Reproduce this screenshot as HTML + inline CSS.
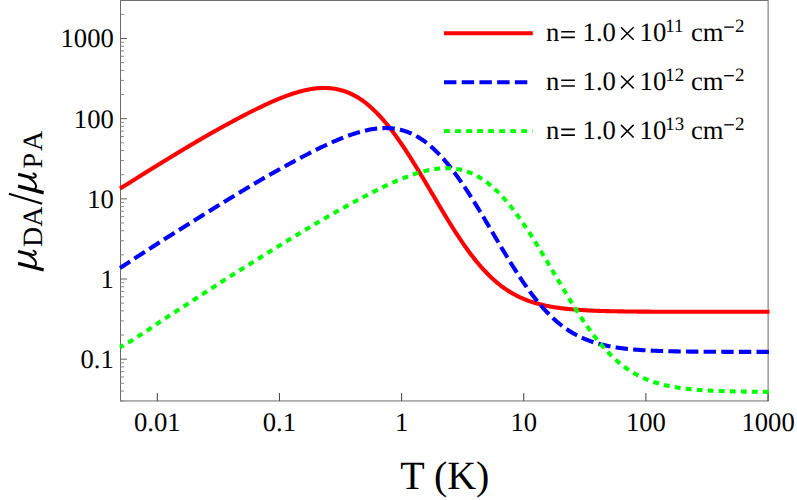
<!DOCTYPE html>
<html><head><meta charset="utf-8"><title>plot</title>
<style>html,body{margin:0;padding:0;background:#fff;}svg{display:block}text{font-family:"Liberation Serif",serif;fill:#000;text-rendering:geometricPrecision}</style></head><body>
<svg width="797" height="500" viewBox="0 0 797 500">
<rect x="0" y="0" width="797" height="500" fill="#fff"/>
<defs><clipPath id="c"><rect x="117.5" y="0.45" width="653.6" height="400.5"/></clipPath></defs>
<rect x="120.5" y="0.45" width="647.6" height="400.5" fill="none" stroke="#6b6b6b" stroke-width="1"/>
<g stroke-width="1">
<line x1="157.30" y1="400.95" x2="157.30" y2="393.05" stroke="#3c3c3c"/>
<line x1="279.45" y1="400.95" x2="279.45" y2="393.05" stroke="#3c3c3c"/>
<line x1="401.60" y1="400.95" x2="401.60" y2="393.05" stroke="#3c3c3c"/>
<line x1="523.75" y1="400.95" x2="523.75" y2="393.05" stroke="#3c3c3c"/>
<line x1="645.90" y1="400.95" x2="645.90" y2="393.05" stroke="#3c3c3c"/>
<line x1="768.05" y1="400.95" x2="768.05" y2="393.05" stroke="#3c3c3c"/>
<line x1="120.5" y1="359.17" x2="127.0" y2="359.17" stroke="#5e5e5e"/>
<line x1="120.5" y1="279.00" x2="127.0" y2="279.00" stroke="#5e5e5e"/>
<line x1="120.5" y1="198.83" x2="127.0" y2="198.83" stroke="#5e5e5e"/>
<line x1="120.5" y1="118.66" x2="127.0" y2="118.66" stroke="#5e5e5e"/>
<line x1="120.5" y1="38.49" x2="127.0" y2="38.49" stroke="#5e5e5e"/>
<line x1="120.5" y1="401.09" x2="124.0" y2="401.09" stroke="#8a8a8a"/>
<line x1="120.5" y1="391.07" x2="124.0" y2="391.07" stroke="#8a8a8a"/>
<line x1="120.5" y1="383.30" x2="124.0" y2="383.30" stroke="#8a8a8a"/>
<line x1="120.5" y1="376.96" x2="124.0" y2="376.96" stroke="#8a8a8a"/>
<line x1="120.5" y1="371.59" x2="124.0" y2="371.59" stroke="#8a8a8a"/>
<line x1="120.5" y1="366.94" x2="124.0" y2="366.94" stroke="#8a8a8a"/>
<line x1="120.5" y1="362.84" x2="124.0" y2="362.84" stroke="#8a8a8a"/>
<line x1="120.5" y1="335.04" x2="124.0" y2="335.04" stroke="#8a8a8a"/>
<line x1="120.5" y1="320.92" x2="124.0" y2="320.92" stroke="#8a8a8a"/>
<line x1="120.5" y1="310.90" x2="124.0" y2="310.90" stroke="#8a8a8a"/>
<line x1="120.5" y1="303.13" x2="124.0" y2="303.13" stroke="#8a8a8a"/>
<line x1="120.5" y1="296.79" x2="124.0" y2="296.79" stroke="#8a8a8a"/>
<line x1="120.5" y1="291.42" x2="124.0" y2="291.42" stroke="#8a8a8a"/>
<line x1="120.5" y1="286.77" x2="124.0" y2="286.77" stroke="#8a8a8a"/>
<line x1="120.5" y1="282.67" x2="124.0" y2="282.67" stroke="#8a8a8a"/>
<line x1="120.5" y1="254.87" x2="124.0" y2="254.87" stroke="#8a8a8a"/>
<line x1="120.5" y1="240.75" x2="124.0" y2="240.75" stroke="#8a8a8a"/>
<line x1="120.5" y1="230.73" x2="124.0" y2="230.73" stroke="#8a8a8a"/>
<line x1="120.5" y1="222.96" x2="124.0" y2="222.96" stroke="#8a8a8a"/>
<line x1="120.5" y1="216.62" x2="124.0" y2="216.62" stroke="#8a8a8a"/>
<line x1="120.5" y1="211.25" x2="124.0" y2="211.25" stroke="#8a8a8a"/>
<line x1="120.5" y1="206.60" x2="124.0" y2="206.60" stroke="#8a8a8a"/>
<line x1="120.5" y1="202.50" x2="124.0" y2="202.50" stroke="#8a8a8a"/>
<line x1="120.5" y1="174.70" x2="124.0" y2="174.70" stroke="#8a8a8a"/>
<line x1="120.5" y1="160.58" x2="124.0" y2="160.58" stroke="#8a8a8a"/>
<line x1="120.5" y1="150.56" x2="124.0" y2="150.56" stroke="#8a8a8a"/>
<line x1="120.5" y1="142.79" x2="124.0" y2="142.79" stroke="#8a8a8a"/>
<line x1="120.5" y1="136.45" x2="124.0" y2="136.45" stroke="#8a8a8a"/>
<line x1="120.5" y1="131.08" x2="124.0" y2="131.08" stroke="#8a8a8a"/>
<line x1="120.5" y1="126.43" x2="124.0" y2="126.43" stroke="#8a8a8a"/>
<line x1="120.5" y1="122.33" x2="124.0" y2="122.33" stroke="#8a8a8a"/>
<line x1="120.5" y1="94.53" x2="124.0" y2="94.53" stroke="#8a8a8a"/>
<line x1="120.5" y1="80.41" x2="124.0" y2="80.41" stroke="#8a8a8a"/>
<line x1="120.5" y1="70.39" x2="124.0" y2="70.39" stroke="#8a8a8a"/>
<line x1="120.5" y1="62.62" x2="124.0" y2="62.62" stroke="#8a8a8a"/>
<line x1="120.5" y1="56.28" x2="124.0" y2="56.28" stroke="#8a8a8a"/>
<line x1="120.5" y1="50.91" x2="124.0" y2="50.91" stroke="#8a8a8a"/>
<line x1="120.5" y1="46.26" x2="124.0" y2="46.26" stroke="#8a8a8a"/>
<line x1="120.5" y1="42.16" x2="124.0" y2="42.16" stroke="#8a8a8a"/>
<line x1="120.5" y1="14.36" x2="124.0" y2="14.36" stroke="#8a8a8a"/>
</g>
<g clip-path="url(#c)" fill="none" stroke-linejoin="round">
<path d="M120.0,188.60 L121.0,187.97 L122.0,187.35 L123.0,186.73 L124.0,186.11 L125.0,185.49 L126.0,184.87 L127.0,184.26 L128.0,183.64 L129.0,183.01 L130.0,182.39 L131.0,181.77 L132.0,181.14 L133.0,180.52 L134.0,179.89 L135.0,179.26 L136.0,178.62 L137.0,177.99 L138.0,177.36 L139.0,176.73 L140.0,176.10 L141.0,175.47 L142.0,174.84 L143.0,174.22 L144.0,173.59 L145.0,172.97 L146.0,172.34 L147.0,171.72 L148.0,171.10 L149.0,170.47 L150.0,169.85 L151.0,169.23 L152.0,168.61 L153.0,167.99 L154.0,167.38 L155.0,166.76 L156.0,166.14 L157.0,165.53 L158.0,164.91 L159.0,164.30 L160.0,163.69 L161.0,163.07 L162.0,162.46 L163.0,161.85 L164.0,161.24 L165.0,160.63 L166.0,160.02 L167.0,159.41 L168.0,158.80 L169.0,158.20 L170.0,157.59 L171.0,156.98 L172.0,156.37 L173.0,155.76 L174.0,155.16 L175.0,154.55 L176.0,153.94 L177.0,153.34 L178.0,152.73 L179.0,152.13 L180.0,151.52 L181.0,150.92 L182.0,150.32 L183.0,149.71 L184.0,149.11 L185.0,148.51 L186.0,147.91 L187.0,147.31 L188.0,146.72 L189.0,146.12 L190.0,145.52 L191.0,144.93 L192.0,144.33 L193.0,143.74 L194.0,143.15 L195.0,142.56 L196.0,141.97 L197.0,141.38 L198.0,140.80 L199.0,140.21 L200.0,139.63 L201.0,139.05 L202.0,138.47 L203.0,137.89 L204.0,137.32 L205.0,136.74 L206.0,136.17 L207.0,135.59 L208.0,135.02 L209.0,134.45 L210.0,133.88 L211.0,133.32 L212.0,132.75 L213.0,132.19 L214.0,131.62 L215.0,131.06 L216.0,130.50 L217.0,129.94 L218.0,129.38 L219.0,128.83 L220.0,128.27 L221.0,127.72 L222.0,127.16 L223.0,126.61 L224.0,126.06 L225.0,125.51 L226.0,124.97 L227.0,124.42 L228.0,123.88 L229.0,123.33 L230.0,122.79 L231.0,122.25 L232.0,121.71 L233.0,121.17 L234.0,120.64 L235.0,120.10 L236.0,119.57 L237.0,119.04 L238.0,118.51 L239.0,117.98 L240.0,117.45 L241.0,116.92 L242.0,116.40 L243.0,115.88 L244.0,115.36 L245.0,114.84 L246.0,114.32 L247.0,113.80 L248.0,113.29 L249.0,112.77 L250.0,112.26 L251.0,111.75 L252.0,111.25 L253.0,110.74 L254.0,110.24 L255.0,109.74 L256.0,109.25 L257.0,108.75 L258.0,108.26 L259.0,107.78 L260.0,107.29 L261.0,106.81 L262.0,106.33 L263.0,105.86 L264.0,105.38 L265.0,104.92 L266.0,104.45 L267.0,103.99 L268.0,103.53 L269.0,103.08 L270.0,102.63 L271.0,102.18 L272.0,101.74 L273.0,101.30 L274.0,100.87 L275.0,100.44 L276.0,100.02 L277.0,99.60 L278.0,99.18 L279.0,98.77 L280.0,98.37 L281.0,97.97 L282.0,97.57 L283.0,97.18 L284.0,96.80 L285.0,96.42 L286.0,96.05 L287.0,95.68 L288.0,95.32 L289.0,94.97 L290.0,94.62 L291.0,94.28 L292.0,93.94 L293.0,93.62 L294.0,93.29 L295.0,92.98 L296.0,92.67 L297.0,92.37 L298.0,92.08 L299.0,91.80 L300.0,91.52 L301.0,91.26 L302.0,91.00 L303.0,90.75 L304.0,90.51 L305.0,90.28 L306.0,90.05 L307.0,89.84 L308.0,89.64 L309.0,89.45 L310.0,89.27 L311.0,89.10 L312.0,88.94 L313.0,88.79 L314.0,88.65 L315.0,88.53 L316.0,88.41 L317.0,88.31 L318.0,88.22 L319.0,88.15 L320.0,88.08 L321.0,88.03 L322.0,88.00 L323.0,87.98 L324.0,87.97 L325.0,87.97 L326.0,87.99 L327.0,88.03 L328.0,88.08 L329.0,88.14 L330.0,88.22 L331.0,88.31 L332.0,88.42 L333.0,88.55 L334.0,88.69 L335.0,88.85 L336.0,89.02 L337.0,89.21 L338.0,89.42 L339.0,89.65 L340.0,89.89 L341.0,90.15 L342.0,90.43 L343.0,90.73 L344.0,91.05 L345.0,91.39 L346.0,91.74 L347.0,92.12 L348.0,92.52 L349.0,92.93 L350.0,93.37 L351.0,93.82 L352.0,94.30 L353.0,94.79 L354.0,95.31 L355.0,95.85 L356.0,96.41 L357.0,96.99 L358.0,97.59 L359.0,98.22 L360.0,98.87 L361.0,99.53 L362.0,100.22 L363.0,100.94 L364.0,101.67 L365.0,102.43 L366.0,103.20 L367.0,104.00 L368.0,104.83 L369.0,105.67 L370.0,106.53 L371.0,107.42 L372.0,108.33 L373.0,109.25 L374.0,110.20 L375.0,111.17 L376.0,112.16 L377.0,113.18 L378.0,114.21 L379.0,115.26 L380.0,116.34 L381.0,117.43 L382.0,118.55 L383.0,119.68 L384.0,120.84 L385.0,122.01 L386.0,123.21 L387.0,124.42 L388.0,125.65 L389.0,126.91 L390.0,128.18 L391.0,129.46 L392.0,130.77 L393.0,132.09 L394.0,133.43 L395.0,134.79 L396.0,136.17 L397.0,137.56 L398.0,138.96 L399.0,140.39 L400.0,141.82 L401.0,143.28 L402.0,144.74 L403.0,146.22 L404.0,147.72 L405.0,149.23 L406.0,150.75 L407.0,152.28 L408.0,153.83 L409.0,155.39 L410.0,156.96 L411.0,158.54 L412.0,160.13 L413.0,161.73 L414.0,163.34 L415.0,164.96 L416.0,166.58 L417.0,168.22 L418.0,169.86 L419.0,171.51 L420.0,173.17 L421.0,174.83 L422.0,176.50 L423.0,178.17 L424.0,179.85 L425.0,181.53 L426.0,183.22 L427.0,184.91 L428.0,186.60 L429.0,188.29 L430.0,189.99 L431.0,191.68 L432.0,193.38 L433.0,195.07 L434.0,196.77 L435.0,198.46 L436.0,200.16 L437.0,201.85 L438.0,203.54 L439.0,205.22 L440.0,206.90 L441.0,208.58 L442.0,210.25 L443.0,211.92 L444.0,213.58 L445.0,215.23 L446.0,216.88 L447.0,218.52 L448.0,220.15 L449.0,221.78 L450.0,223.39 L451.0,225.00 L452.0,226.59 L453.0,228.18 L454.0,229.76 L455.0,231.32 L456.0,232.87 L457.0,234.41 L458.0,235.94 L459.0,237.45 L460.0,238.96 L461.0,240.44 L462.0,241.92 L463.0,243.38 L464.0,244.82 L465.0,246.25 L466.0,247.66 L467.0,249.06 L468.0,250.44 L469.0,251.81 L470.0,253.16 L471.0,254.49 L472.0,255.80 L473.0,257.10 L474.0,258.38 L475.0,259.64 L476.0,260.88 L477.0,262.10 L478.0,263.31 L479.0,264.49 L480.0,265.66 L481.0,266.81 L482.0,267.94 L483.0,269.05 L484.0,270.14 L485.0,271.21 L486.0,272.27 L487.0,273.30 L488.0,274.31 L489.0,275.31 L490.0,276.29 L491.0,277.24 L492.0,278.18 L493.0,279.10 L494.0,280.00 L495.0,280.88 L496.0,281.74 L497.0,282.58 L498.0,283.41 L499.0,284.22 L500.0,285.00 L501.0,285.77 L502.0,286.53 L503.0,287.26 L504.0,287.98 L505.0,288.68 L506.0,289.36 L507.0,290.03 L508.0,290.68 L509.0,291.31 L510.0,291.93 L511.0,292.53 L512.0,293.12 L513.0,293.69 L514.0,294.25 L515.0,294.79 L516.0,295.31 L517.0,295.83 L518.0,296.32 L519.0,296.81 L520.0,297.28 L521.0,297.74 L522.0,298.18 L523.0,298.62 L524.0,299.04 L525.0,299.44 L526.0,299.84 L527.0,300.23 L528.0,300.60 L529.0,300.96 L530.0,301.31 L531.0,301.65 L532.0,301.99 L533.0,302.31 L534.0,302.62 L535.0,302.92 L536.0,303.21 L537.0,303.50 L538.0,303.77 L539.0,304.04 L540.0,304.30 L541.0,304.55 L542.0,304.79 L543.0,305.02 L544.0,305.25 L545.0,305.47 L546.0,305.68 L547.0,305.89 L548.0,306.09 L549.0,306.28 L550.0,306.47 L551.0,306.65 L552.0,306.83 L553.0,306.99 L554.0,307.16 L555.0,307.32 L556.0,307.47 L557.0,307.62 L558.0,307.76 L559.0,307.90 L560.0,308.03 L561.0,308.16 L562.0,308.29 L563.0,308.41 L564.0,308.53 L565.0,308.64 L566.0,308.75 L567.0,308.86 L568.0,308.96 L569.0,309.06 L570.0,309.15 L571.0,309.24 L572.0,309.33 L573.0,309.42 L574.0,309.50 L575.0,309.58 L576.0,309.66 L577.0,309.74 L578.0,309.81 L579.0,309.88 L580.0,309.95 L581.0,310.01 L582.0,310.07 L583.0,310.13 L584.0,310.19 L585.0,310.25 L586.0,310.31 L587.0,310.36 L588.0,310.41 L589.0,310.46 L590.0,310.51 L591.0,310.55 L592.0,310.60 L593.0,310.64 L594.0,310.68 L595.0,310.72 L596.0,310.76 L597.0,310.80 L598.0,310.83 L599.0,310.87 L600.0,310.90 L601.0,310.93 L602.0,310.96 L603.0,310.99 L604.0,311.02 L605.0,311.05 L606.0,311.08 L607.0,311.10 L608.0,311.13 L609.0,311.15 L610.0,311.18 L611.0,311.20 L612.0,311.22 L613.0,311.24 L614.0,311.26 L615.0,311.28 L616.0,311.30 L617.0,311.32 L618.0,311.34 L619.0,311.36 L620.0,311.37 L621.0,311.39 L622.0,311.40 L623.0,311.42 L624.0,311.43 L625.0,311.45 L626.0,311.46 L627.0,311.47 L628.0,311.48 L629.0,311.50 L630.0,311.51 L631.0,311.52 L632.0,311.53 L633.0,311.54 L634.0,311.55 L635.0,311.56 L636.0,311.57 L637.0,311.58 L638.0,311.59 L639.0,311.60 L640.0,311.60 L641.0,311.61 L642.0,311.62 L643.0,311.63 L644.0,311.63 L645.0,311.64 L646.0,311.65 L647.0,311.65 L648.0,311.66 L649.0,311.66 L650.0,311.67 L651.0,311.68 L652.0,311.68 L653.0,311.69 L654.0,311.69 L655.0,311.70 L656.0,311.70 L657.0,311.70 L658.0,311.71 L659.0,311.71 L660.0,311.72 L661.0,311.72 L662.0,311.72 L663.0,311.73 L664.0,311.73 L665.0,311.73 L666.0,311.74 L667.0,311.74 L668.0,311.74 L669.0,311.75 L670.0,311.75 L671.0,311.75 L672.0,311.75 L673.0,311.76 L674.0,311.76 L675.0,311.76 L676.0,311.76 L677.0,311.77 L678.0,311.77 L679.0,311.77 L680.0,311.77 L681.0,311.77 L682.0,311.78 L683.0,311.78 L684.0,311.78 L685.0,311.78 L686.0,311.78 L687.0,311.78 L688.0,311.79 L689.0,311.79 L690.0,311.79 L691.0,311.79 L692.0,311.79 L693.0,311.79 L694.0,311.79 L695.0,311.79 L696.0,311.80 L697.0,311.80 L698.0,311.80 L699.0,311.80 L700.0,311.80 L701.0,311.80 L702.0,311.80 L703.0,311.80 L704.0,311.80 L705.0,311.80 L706.0,311.80 L707.0,311.81 L708.0,311.81 L709.0,311.81 L710.0,311.81 L711.0,311.81 L712.0,311.81 L713.0,311.81 L714.0,311.81 L715.0,311.81 L716.0,311.81 L717.0,311.81 L718.0,311.81 L719.0,311.81 L720.0,311.81 L721.0,311.81 L722.0,311.81 L723.0,311.81 L724.0,311.81 L725.0,311.81 L726.0,311.82 L727.0,311.82 L728.0,311.82 L729.0,311.82 L730.0,311.82 L731.0,311.82 L732.0,311.82 L733.0,311.82 L734.0,311.82 L735.0,311.82 L736.0,311.82 L737.0,311.82 L738.0,311.82 L739.0,311.82 L740.0,311.82 L741.0,311.82 L742.0,311.82 L743.0,311.82 L744.0,311.82 L745.0,311.82 L746.0,311.82 L747.0,311.82 L748.0,311.82 L749.0,311.82 L750.0,311.82 L751.0,311.82 L752.0,311.82 L753.0,311.82 L754.0,311.82 L755.0,311.82 L756.0,311.82 L757.0,311.82 L758.0,311.82 L759.0,311.82 L760.0,311.82 L761.0,311.82 L762.0,311.82 L763.0,311.82 L764.0,311.82 L765.0,311.82 L766.0,311.82 L767.0,311.82 L768.0,311.82 L769.0,311.82 L769.5,311.82" stroke="#ff0000" stroke-width="4.1"/>
<path d="M120.0,268.02 L121.0,267.38 L122.0,266.74 L123.0,266.10 L124.0,265.46 L125.0,264.81 L126.0,264.15 L127.0,263.50 L128.0,262.84 L129.0,262.18 L130.0,261.52 L131.0,260.86 L132.0,260.20 L133.0,259.54 L134.0,258.89 L135.0,258.23 L136.0,257.57 L137.0,256.91 L138.0,256.25 L139.0,255.60 L140.0,254.95 L141.0,254.30 L142.0,253.66 L143.0,253.02 L144.0,252.38 L145.0,251.74 L146.0,251.10 L147.0,250.46 L148.0,249.82 L149.0,249.17 L150.0,248.53 L151.0,247.88 L152.0,247.23 L153.0,246.58 L154.0,245.93 L155.0,245.28 L156.0,244.63 L157.0,243.98 L158.0,243.34 L159.0,242.69 L160.0,242.04 L161.0,241.39 L162.0,240.75 L163.0,240.10 L164.0,239.46 L165.0,238.82 L166.0,238.18 L167.0,237.55 L168.0,236.91 L169.0,236.28 L170.0,235.65 L171.0,235.03 L172.0,234.40 L173.0,233.77 L174.0,233.15 L175.0,232.52 L176.0,231.90 L177.0,231.27 L178.0,230.65 L179.0,230.02 L180.0,229.40 L181.0,228.77 L182.0,228.15 L183.0,227.53 L184.0,226.91 L185.0,226.29 L186.0,225.67 L187.0,225.05 L188.0,224.43 L189.0,223.81 L190.0,223.19 L191.0,222.57 L192.0,221.94 L193.0,221.32 L194.0,220.69 L195.0,220.06 L196.0,219.43 L197.0,218.80 L198.0,218.17 L199.0,217.54 L200.0,216.91 L201.0,216.28 L202.0,215.65 L203.0,215.02 L204.0,214.39 L205.0,213.77 L206.0,213.14 L207.0,212.52 L208.0,211.89 L209.0,211.27 L210.0,210.65 L211.0,210.03 L212.0,209.41 L213.0,208.79 L214.0,208.17 L215.0,207.55 L216.0,206.93 L217.0,206.32 L218.0,205.70 L219.0,205.09 L220.0,204.47 L221.0,203.86 L222.0,203.25 L223.0,202.63 L224.0,202.02 L225.0,201.41 L226.0,200.80 L227.0,200.20 L228.0,199.59 L229.0,198.98 L230.0,198.37 L231.0,197.76 L232.0,197.15 L233.0,196.54 L234.0,195.94 L235.0,195.33 L236.0,194.72 L237.0,194.12 L238.0,193.51 L239.0,192.90 L240.0,192.30 L241.0,191.70 L242.0,191.09 L243.0,190.49 L244.0,189.89 L245.0,189.28 L246.0,188.68 L247.0,188.08 L248.0,187.49 L249.0,186.89 L250.0,186.29 L251.0,185.69 L252.0,185.10 L253.0,184.51 L254.0,183.91 L255.0,183.32 L256.0,182.73 L257.0,182.14 L258.0,181.56 L259.0,180.97 L260.0,180.38 L261.0,179.80 L262.0,179.22 L263.0,178.64 L264.0,178.06 L265.0,177.48 L266.0,176.91 L267.0,176.33 L268.0,175.76 L269.0,175.19 L270.0,174.62 L271.0,174.05 L272.0,173.48 L273.0,172.92 L274.0,172.35 L275.0,171.79 L276.0,171.23 L277.0,170.67 L278.0,170.11 L279.0,169.55 L280.0,168.99 L281.0,168.44 L282.0,167.88 L283.0,167.33 L284.0,166.78 L285.0,166.23 L286.0,165.68 L287.0,165.13 L288.0,164.59 L289.0,164.04 L290.0,163.50 L291.0,162.96 L292.0,162.42 L293.0,161.88 L294.0,161.34 L295.0,160.80 L296.0,160.27 L297.0,159.73 L298.0,159.20 L299.0,158.67 L300.0,158.14 L301.0,157.61 L302.0,157.09 L303.0,156.56 L304.0,156.04 L305.0,155.52 L306.0,155.00 L307.0,154.48 L308.0,153.96 L309.0,153.45 L310.0,152.94 L311.0,152.42 L312.0,151.92 L313.0,151.41 L314.0,150.90 L315.0,150.40 L316.0,149.90 L317.0,149.41 L318.0,148.91 L319.0,148.42 L320.0,147.93 L321.0,147.45 L322.0,146.97 L323.0,146.49 L324.0,146.01 L325.0,145.54 L326.0,145.07 L327.0,144.61 L328.0,144.15 L329.0,143.69 L330.0,143.23 L331.0,142.78 L332.0,142.34 L333.0,141.89 L334.0,141.46 L335.0,141.02 L336.0,140.59 L337.0,140.17 L338.0,139.75 L339.0,139.33 L340.0,138.92 L341.0,138.52 L342.0,138.12 L343.0,137.72 L344.0,137.33 L345.0,136.95 L346.0,136.57 L347.0,136.19 L348.0,135.83 L349.0,135.47 L350.0,135.11 L351.0,134.76 L352.0,134.42 L353.0,134.08 L354.0,133.75 L355.0,133.43 L356.0,133.12 L357.0,132.81 L358.0,132.51 L359.0,132.22 L360.0,131.93 L361.0,131.66 L362.0,131.39 L363.0,131.13 L364.0,130.88 L365.0,130.64 L366.0,130.40 L367.0,130.18 L368.0,129.97 L369.0,129.76 L370.0,129.57 L371.0,129.39 L372.0,129.22 L373.0,129.06 L374.0,128.91 L375.0,128.77 L376.0,128.64 L377.0,128.53 L378.0,128.42 L379.0,128.33 L380.0,128.26 L381.0,128.19 L382.0,128.14 L383.0,128.10 L384.0,128.08 L385.0,128.07 L386.0,128.07 L387.0,128.09 L388.0,128.12 L389.0,128.17 L390.0,128.23 L391.0,128.31 L392.0,128.40 L393.0,128.51 L394.0,128.63 L395.0,128.77 L396.0,128.93 L397.0,129.10 L398.0,129.29 L399.0,129.50 L400.0,129.72 L401.0,129.96 L402.0,130.22 L403.0,130.50 L404.0,130.80 L405.0,131.11 L406.0,131.45 L407.0,131.80 L408.0,132.17 L409.0,132.57 L410.0,132.98 L411.0,133.41 L412.0,133.87 L413.0,134.34 L414.0,134.83 L415.0,135.35 L416.0,135.88 L417.0,136.44 L418.0,137.02 L419.0,137.62 L420.0,138.24 L421.0,138.89 L422.0,139.55 L423.0,140.24 L424.0,140.95 L425.0,141.68 L426.0,142.43 L427.0,143.21 L428.0,144.01 L429.0,144.83 L430.0,145.67 L431.0,146.53 L432.0,147.41 L433.0,148.32 L434.0,149.24 L435.0,150.19 L436.0,151.16 L437.0,152.14 L438.0,153.15 L439.0,154.19 L440.0,155.24 L441.0,156.31 L442.0,157.40 L443.0,158.51 L444.0,159.65 L445.0,160.80 L446.0,161.97 L447.0,163.16 L448.0,164.38 L449.0,165.61 L450.0,166.85 L451.0,168.12 L452.0,169.41 L453.0,170.71 L454.0,172.03 L455.0,173.37 L456.0,174.73 L457.0,176.10 L458.0,177.49 L459.0,178.89 L460.0,180.31 L461.0,181.75 L462.0,183.20 L463.0,184.67 L464.0,186.15 L465.0,187.64 L466.0,189.15 L467.0,190.67 L468.0,192.20 L469.0,193.74 L470.0,195.30 L471.0,196.87 L472.0,198.45 L473.0,200.04 L474.0,201.64 L475.0,203.24 L476.0,204.86 L477.0,206.49 L478.0,208.12 L479.0,209.76 L480.0,211.41 L481.0,213.07 L482.0,214.73 L483.0,216.40 L484.0,218.07 L485.0,219.75 L486.0,221.43 L487.0,223.12 L488.0,224.80 L489.0,226.50 L490.0,228.19 L491.0,229.88 L492.0,231.58 L493.0,233.28 L494.0,234.97 L495.0,236.67 L496.0,238.36 L497.0,240.05 L498.0,241.75 L499.0,243.43 L500.0,245.12 L501.0,246.80 L502.0,248.48 L503.0,250.15 L504.0,251.82 L505.0,253.48 L506.0,255.13 L507.0,256.78 L508.0,258.42 L509.0,260.06 L510.0,261.68 L511.0,263.30 L512.0,264.91 L513.0,266.50 L514.0,268.09 L515.0,269.67 L516.0,271.23 L517.0,272.79 L518.0,274.33 L519.0,275.86 L520.0,277.37 L521.0,278.88 L522.0,280.37 L523.0,281.84 L524.0,283.30 L525.0,284.75 L526.0,286.18 L527.0,287.60 L528.0,288.99 L529.0,290.38 L530.0,291.75 L531.0,293.10 L532.0,294.43 L533.0,295.74 L534.0,297.04 L535.0,298.32 L536.0,299.59 L537.0,300.83 L538.0,302.06 L539.0,303.26 L540.0,304.45 L541.0,305.62 L542.0,306.77 L543.0,307.91 L544.0,309.02 L545.0,310.11 L546.0,311.19 L547.0,312.24 L548.0,313.28 L549.0,314.29 L550.0,315.29 L551.0,316.27 L552.0,317.23 L553.0,318.17 L554.0,319.09 L555.0,319.99 L556.0,320.87 L557.0,321.74 L558.0,322.58 L559.0,323.41 L560.0,324.22 L561.0,325.01 L562.0,325.78 L563.0,326.54 L564.0,327.27 L565.0,327.99 L566.0,328.70 L567.0,329.38 L568.0,330.05 L569.0,330.70 L570.0,331.34 L571.0,331.96 L572.0,332.56 L573.0,333.15 L574.0,333.72 L575.0,334.28 L576.0,334.82 L577.0,335.35 L578.0,335.86 L579.0,336.36 L580.0,336.85 L581.0,337.32 L582.0,337.78 L583.0,338.23 L584.0,338.66 L585.0,339.09 L586.0,339.50 L587.0,339.89 L588.0,340.28 L589.0,340.65 L590.0,341.02 L591.0,341.37 L592.0,341.71 L593.0,342.05 L594.0,342.37 L595.0,342.68 L596.0,342.98 L597.0,343.28 L598.0,343.56 L599.0,343.84 L600.0,344.11 L601.0,344.37 L602.0,344.62 L603.0,344.86 L604.0,345.10 L605.0,345.32 L606.0,345.54 L607.0,345.76 L608.0,345.97 L609.0,346.17 L610.0,346.36 L611.0,346.55 L612.0,346.73 L613.0,346.90 L614.0,347.07 L615.0,347.24 L616.0,347.40 L617.0,347.55 L618.0,347.70 L619.0,347.85 L620.0,347.98 L621.0,348.12 L622.0,348.25 L623.0,348.37 L624.0,348.50 L625.0,348.61 L626.0,348.73 L627.0,348.84 L628.0,348.94 L629.0,349.05 L630.0,349.15 L631.0,349.24 L632.0,349.33 L633.0,349.42 L634.0,349.51 L635.0,349.59 L636.0,349.67 L637.0,349.75 L638.0,349.83 L639.0,349.90 L640.0,349.97 L641.0,350.04 L642.0,350.10 L643.0,350.17 L644.0,350.23 L645.0,350.29 L646.0,350.34 L647.0,350.40 L648.0,350.45 L649.0,350.50 L650.0,350.55 L651.0,350.60 L652.0,350.65 L653.0,350.69 L654.0,350.73 L655.0,350.78 L656.0,350.82 L657.0,350.85 L658.0,350.89 L659.0,350.93 L660.0,350.96 L661.0,351.00 L662.0,351.03 L663.0,351.06 L664.0,351.09 L665.0,351.12 L666.0,351.15 L667.0,351.18 L668.0,351.20 L669.0,351.23 L670.0,351.25 L671.0,351.28 L672.0,351.30 L673.0,351.32 L674.0,351.34 L675.0,351.36 L676.0,351.38 L677.0,351.40 L678.0,351.42 L679.0,351.44 L680.0,351.45 L681.0,351.47 L682.0,351.49 L683.0,351.50 L684.0,351.52 L685.0,351.53 L686.0,351.54 L687.0,351.56 L688.0,351.57 L689.0,351.58 L690.0,351.60 L691.0,351.61 L692.0,351.62 L693.0,351.63 L694.0,351.64 L695.0,351.65 L696.0,351.66 L697.0,351.67 L698.0,351.68 L699.0,351.69 L700.0,351.69 L701.0,351.70 L702.0,351.71 L703.0,351.72 L704.0,351.73 L705.0,351.73 L706.0,351.74 L707.0,351.75 L708.0,351.75 L709.0,351.76 L710.0,351.76 L711.0,351.77 L712.0,351.78 L713.0,351.78 L714.0,351.79 L715.0,351.79 L716.0,351.80 L717.0,351.80 L718.0,351.80 L719.0,351.81 L720.0,351.81 L721.0,351.82 L722.0,351.82 L723.0,351.82 L724.0,351.83 L725.0,351.83 L726.0,351.83 L727.0,351.84 L728.0,351.84 L729.0,351.84 L730.0,351.85 L731.0,351.85 L732.0,351.85 L733.0,351.85 L734.0,351.86 L735.0,351.86 L736.0,351.86 L737.0,351.86 L738.0,351.87 L739.0,351.87 L740.0,351.87 L741.0,351.87 L742.0,351.87 L743.0,351.88 L744.0,351.88 L745.0,351.88 L746.0,351.88 L747.0,351.88 L748.0,351.88 L749.0,351.89 L750.0,351.89 L751.0,351.89 L752.0,351.89 L753.0,351.89 L754.0,351.89 L755.0,351.89 L756.0,351.89 L757.0,351.90 L758.0,351.90 L759.0,351.90 L760.0,351.90 L761.0,351.90 L762.0,351.90 L763.0,351.90 L764.0,351.90 L765.0,351.90 L766.0,351.90 L767.0,351.90 L768.0,351.91 L769.0,351.91 L769.5,351.91" stroke="#0000ff" stroke-width="4.1" stroke-dasharray="12.4 5.23" stroke-dashoffset="0.4"/>
<path d="M120.0,347.24 L121.0,346.70 L122.0,346.15 L123.0,345.59 L124.0,345.03 L125.0,344.46 L126.0,343.88 L127.0,343.29 L128.0,342.70 L129.0,342.10 L130.0,341.50 L131.0,340.89 L132.0,340.27 L133.0,339.66 L134.0,339.03 L135.0,338.40 L136.0,337.77 L137.0,337.13 L138.0,336.49 L139.0,335.85 L140.0,335.20 L141.0,334.55 L142.0,333.89 L143.0,333.24 L144.0,332.58 L145.0,331.92 L146.0,331.26 L147.0,330.60 L148.0,329.93 L149.0,329.27 L150.0,328.60 L151.0,327.92 L152.0,327.23 L153.0,326.54 L154.0,325.85 L155.0,325.16 L156.0,324.47 L157.0,323.78 L158.0,323.10 L159.0,322.43 L160.0,321.78 L161.0,321.13 L162.0,320.48 L163.0,319.83 L164.0,319.18 L165.0,318.53 L166.0,317.87 L167.0,317.22 L168.0,316.56 L169.0,315.90 L170.0,315.25 L171.0,314.59 L172.0,313.94 L173.0,313.29 L174.0,312.64 L175.0,312.00 L176.0,311.37 L177.0,310.73 L178.0,310.10 L179.0,309.46 L180.0,308.83 L181.0,308.19 L182.0,307.56 L183.0,306.92 L184.0,306.28 L185.0,305.63 L186.0,304.99 L187.0,304.33 L188.0,303.68 L189.0,303.02 L190.0,302.36 L191.0,301.70 L192.0,301.04 L193.0,300.38 L194.0,299.72 L195.0,299.06 L196.0,298.41 L197.0,297.75 L198.0,297.09 L199.0,296.43 L200.0,295.78 L201.0,295.13 L202.0,294.48 L203.0,293.84 L204.0,293.19 L205.0,292.55 L206.0,291.91 L207.0,291.27 L208.0,290.63 L209.0,289.99 L210.0,289.35 L211.0,288.71 L212.0,288.06 L213.0,287.41 L214.0,286.76 L215.0,286.11 L216.0,285.46 L217.0,284.81 L218.0,284.16 L219.0,283.51 L220.0,282.86 L221.0,282.22 L222.0,281.57 L223.0,280.92 L224.0,280.28 L225.0,279.64 L226.0,279.00 L227.0,278.36 L228.0,277.72 L229.0,277.09 L230.0,276.46 L231.0,275.83 L232.0,275.20 L233.0,274.57 L234.0,273.95 L235.0,273.32 L236.0,272.70 L237.0,272.07 L238.0,271.45 L239.0,270.82 L240.0,270.20 L241.0,269.57 L242.0,268.95 L243.0,268.32 L244.0,267.70 L245.0,267.08 L246.0,266.46 L247.0,265.84 L248.0,265.22 L249.0,264.60 L250.0,263.98 L251.0,263.36 L252.0,262.74 L253.0,262.12 L254.0,261.49 L255.0,260.87 L256.0,260.24 L257.0,259.61 L258.0,258.98 L259.0,258.34 L260.0,257.71 L261.0,257.08 L262.0,256.45 L263.0,255.82 L264.0,255.20 L265.0,254.57 L266.0,253.94 L267.0,253.32 L268.0,252.69 L269.0,252.07 L270.0,251.45 L271.0,250.82 L272.0,250.20 L273.0,249.58 L274.0,248.96 L275.0,248.34 L276.0,247.72 L277.0,247.11 L278.0,246.49 L279.0,245.87 L280.0,245.26 L281.0,244.65 L282.0,244.03 L283.0,243.42 L284.0,242.81 L285.0,242.20 L286.0,241.59 L287.0,240.98 L288.0,240.37 L289.0,239.76 L290.0,239.15 L291.0,238.54 L292.0,237.93 L293.0,237.33 L294.0,236.72 L295.0,236.11 L296.0,235.50 L297.0,234.90 L298.0,234.29 L299.0,233.68 L300.0,233.08 L301.0,232.47 L302.0,231.87 L303.0,231.26 L304.0,230.66 L305.0,230.06 L306.0,229.46 L307.0,228.86 L308.0,228.26 L309.0,227.66 L310.0,227.06 L311.0,226.46 L312.0,225.87 L313.0,225.27 L314.0,224.68 L315.0,224.08 L316.0,223.49 L317.0,222.90 L318.0,222.31 L319.0,221.73 L320.0,221.14 L321.0,220.55 L322.0,219.97 L323.0,219.39 L324.0,218.81 L325.0,218.23 L326.0,217.65 L327.0,217.08 L328.0,216.50 L329.0,215.93 L330.0,215.36 L331.0,214.79 L332.0,214.22 L333.0,213.65 L334.0,213.09 L335.0,212.52 L336.0,211.96 L337.0,211.40 L338.0,210.83 L339.0,210.28 L340.0,209.72 L341.0,209.16 L342.0,208.60 L343.0,208.05 L344.0,207.50 L345.0,206.95 L346.0,206.40 L347.0,205.85 L348.0,205.30 L349.0,204.75 L350.0,204.21 L351.0,203.66 L352.0,203.12 L353.0,202.58 L354.0,202.04 L355.0,201.50 L356.0,200.97 L357.0,200.43 L358.0,199.90 L359.0,199.37 L360.0,198.83 L361.0,198.30 L362.0,197.78 L363.0,197.25 L364.0,196.73 L365.0,196.20 L366.0,195.68 L367.0,195.16 L368.0,194.64 L369.0,194.13 L370.0,193.61 L371.0,193.10 L372.0,192.59 L373.0,192.08 L374.0,191.57 L375.0,191.06 L376.0,190.56 L377.0,190.06 L378.0,189.57 L379.0,189.07 L380.0,188.58 L381.0,188.09 L382.0,187.61 L383.0,187.13 L384.0,186.65 L385.0,186.17 L386.0,185.70 L387.0,185.23 L388.0,184.76 L389.0,184.30 L390.0,183.84 L391.0,183.39 L392.0,182.94 L393.0,182.49 L394.0,182.05 L395.0,181.61 L396.0,181.17 L397.0,180.74 L398.0,180.32 L399.0,179.90 L400.0,179.48 L401.0,179.07 L402.0,178.66 L403.0,178.26 L404.0,177.87 L405.0,177.48 L406.0,177.09 L407.0,176.71 L408.0,176.34 L409.0,175.97 L410.0,175.61 L411.0,175.25 L412.0,174.90 L413.0,174.56 L414.0,174.22 L415.0,173.89 L416.0,173.57 L417.0,173.25 L418.0,172.95 L419.0,172.64 L420.0,172.35 L421.0,172.07 L422.0,171.79 L423.0,171.52 L424.0,171.26 L425.0,171.01 L426.0,170.76 L427.0,170.53 L428.0,170.31 L429.0,170.09 L430.0,169.89 L431.0,169.69 L432.0,169.51 L433.0,169.34 L434.0,169.17 L435.0,169.02 L436.0,168.88 L437.0,168.76 L438.0,168.64 L439.0,168.54 L440.0,168.44 L441.0,168.36 L442.0,168.30 L443.0,168.25 L444.0,168.21 L445.0,168.18 L446.0,168.17 L447.0,168.17 L448.0,168.19 L449.0,168.22 L450.0,168.26 L451.0,168.32 L452.0,168.40 L453.0,168.49 L454.0,168.59 L455.0,168.72 L456.0,168.85 L457.0,169.01 L458.0,169.18 L459.0,169.37 L460.0,169.57 L461.0,169.79 L462.0,170.03 L463.0,170.29 L464.0,170.57 L465.0,170.86 L466.0,171.17 L467.0,171.51 L468.0,171.86 L469.0,172.23 L470.0,172.62 L471.0,173.03 L472.0,173.46 L473.0,173.91 L474.0,174.38 L475.0,174.87 L476.0,175.39 L477.0,175.92 L478.0,176.47 L479.0,177.05 L480.0,177.65 L481.0,178.27 L482.0,178.91 L483.0,179.57 L484.0,180.26 L485.0,180.96 L486.0,181.69 L487.0,182.44 L488.0,183.22 L489.0,184.01 L490.0,184.83 L491.0,185.66 L492.0,186.52 L493.0,187.40 L494.0,188.31 L495.0,189.23 L496.0,190.17 L497.0,191.14 L498.0,192.12 L499.0,193.13 L500.0,194.16 L501.0,195.21 L502.0,196.28 L503.0,197.37 L504.0,198.48 L505.0,199.61 L506.0,200.76 L507.0,201.93 L508.0,203.12 L509.0,204.33 L510.0,205.56 L511.0,206.80 L512.0,208.07 L513.0,209.35 L514.0,210.65 L515.0,211.97 L516.0,213.31 L517.0,214.66 L518.0,216.03 L519.0,217.42 L520.0,218.82 L521.0,220.24 L522.0,221.68 L523.0,223.13 L524.0,224.59 L525.0,226.07 L526.0,227.56 L527.0,229.06 L528.0,230.58 L529.0,232.11 L530.0,233.66 L531.0,235.21 L532.0,236.78 L533.0,238.36 L534.0,239.95 L535.0,241.54 L536.0,243.15 L537.0,244.77 L538.0,246.39 L539.0,248.03 L540.0,249.67 L541.0,251.32 L542.0,252.97 L543.0,254.63 L544.0,256.30 L545.0,257.97 L546.0,259.65 L547.0,261.33 L548.0,263.01 L549.0,264.70 L550.0,266.39 L551.0,268.09 L552.0,269.78 L553.0,271.48 L554.0,273.17 L555.0,274.87 L556.0,276.56 L557.0,278.26 L558.0,279.95 L559.0,281.64 L560.0,283.33 L561.0,285.02 L562.0,286.70 L563.0,288.38 L564.0,290.05 L565.0,291.72 L566.0,293.38 L567.0,295.04 L568.0,296.68 L569.0,298.33 L570.0,299.96 L571.0,301.59 L572.0,303.20 L573.0,304.81 L574.0,306.41 L575.0,308.00 L576.0,309.58 L577.0,311.14 L578.0,312.70 L579.0,314.24 L580.0,315.77 L581.0,317.29 L582.0,318.80 L583.0,320.29 L584.0,321.77 L585.0,323.23 L586.0,324.68 L587.0,326.11 L588.0,327.53 L589.0,328.93 L590.0,330.31 L591.0,331.68 L592.0,333.03 L593.0,334.37 L594.0,335.69 L595.0,336.99 L596.0,338.27 L597.0,339.54 L598.0,340.78 L599.0,342.01 L600.0,343.22 L601.0,344.41 L602.0,345.58 L603.0,346.74 L604.0,347.87 L605.0,348.99 L606.0,350.08 L607.0,351.16 L608.0,352.22 L609.0,353.25 L610.0,354.27 L611.0,355.27 L612.0,356.25 L613.0,357.21 L614.0,358.16 L615.0,359.08 L616.0,359.98 L617.0,360.87 L618.0,361.74 L619.0,362.58 L620.0,363.41 L621.0,364.22 L622.0,365.02 L623.0,365.79 L624.0,366.55 L625.0,367.29 L626.0,368.01 L627.0,368.71 L628.0,369.40 L629.0,370.07 L630.0,370.72 L631.0,371.36 L632.0,371.98 L633.0,372.59 L634.0,373.18 L635.0,373.75 L636.0,374.31 L637.0,374.86 L638.0,375.39 L639.0,375.90 L640.0,376.41 L641.0,376.89 L642.0,377.37 L643.0,377.83 L644.0,378.28 L645.0,378.71 L646.0,379.14 L647.0,379.55 L648.0,379.95 L649.0,380.33 L650.0,380.71 L651.0,381.08 L652.0,381.43 L653.0,381.77 L654.0,382.11 L655.0,382.43 L656.0,382.74 L657.0,383.05 L658.0,383.34 L659.0,383.63 L660.0,383.91 L661.0,384.17 L662.0,384.43 L663.0,384.69 L664.0,384.93 L665.0,385.17 L666.0,385.40 L667.0,385.62 L668.0,385.83 L669.0,386.04 L670.0,386.24 L671.0,386.44 L672.0,386.63 L673.0,386.81 L674.0,386.98 L675.0,387.15 L676.0,387.32 L677.0,387.48 L678.0,387.63 L679.0,387.78 L680.0,387.93 L681.0,388.07 L682.0,388.20 L683.0,388.33 L684.0,388.46 L685.0,388.58 L686.0,388.70 L687.0,388.81 L688.0,388.92 L689.0,389.03 L690.0,389.13 L691.0,389.23 L692.0,389.33 L693.0,389.42 L694.0,389.51 L695.0,389.60 L696.0,389.68 L697.0,389.76 L698.0,389.84 L699.0,389.92 L700.0,389.99 L701.0,390.06 L702.0,390.13 L703.0,390.20 L704.0,390.26 L705.0,390.32 L706.0,390.38 L707.0,390.44 L708.0,390.49 L709.0,390.55 L710.0,390.60 L711.0,390.65 L712.0,390.69 L713.0,390.74 L714.0,390.79 L715.0,390.83 L716.0,390.87 L717.0,390.91 L718.0,390.95 L719.0,390.99 L720.0,391.02 L721.0,391.06 L722.0,391.09 L723.0,391.13 L724.0,391.16 L725.0,391.19 L726.0,391.22 L727.0,391.24 L728.0,391.27 L729.0,391.30 L730.0,391.32 L731.0,391.35 L732.0,391.37 L733.0,391.40 L734.0,391.42 L735.0,391.44 L736.0,391.46 L737.0,391.48 L738.0,391.50 L739.0,391.52 L740.0,391.53 L741.0,391.55 L742.0,391.57 L743.0,391.58 L744.0,391.60 L745.0,391.61 L746.0,391.63 L747.0,391.64 L748.0,391.66 L749.0,391.67 L750.0,391.68 L751.0,391.69 L752.0,391.71 L753.0,391.72 L754.0,391.73 L755.0,391.74 L756.0,391.75 L757.0,391.76 L758.0,391.77 L759.0,391.78 L760.0,391.79 L761.0,391.79 L762.0,391.80 L763.0,391.81 L764.0,391.82 L765.0,391.82 L766.0,391.83 L767.0,391.84 L768.0,391.85 L769.0,391.85 L769.5,391.85" stroke="#00ff00" stroke-width="4.1" stroke-dasharray="5.85 5.19" stroke-dashoffset="1.7"/>
</g>
<g font-size="26.67">
<text x="157.30" y="431" text-anchor="middle">0.01</text>
<text x="279.45" y="431" text-anchor="middle">0.1</text>
<text x="401.60" y="431" text-anchor="middle">1</text>
<text x="523.75" y="431" text-anchor="middle">10</text>
<text x="645.90" y="431" text-anchor="middle">100</text>
<text x="768.05" y="431" text-anchor="middle">1000</text>
<text x="113.8" y="368.07" text-anchor="end">0.1</text>
<text x="113.8" y="287.90" text-anchor="end">1</text>
<text x="113.8" y="207.73" text-anchor="end">10</text>
<text x="113.8" y="127.56" text-anchor="end">100</text>
<text x="113.8" y="47.39" text-anchor="end">1000</text>
</g>
<text x="400.2" y="489.1" font-size="40">T (K)</text>
<g transform="translate(34.4,271.3) rotate(-90)">
<g transform="translate(0,0)" fill="#000" stroke="#000" stroke-linecap="butt" stroke-linejoin="round"><path d="M6.3,-16.5 L9.5,-16.1 L3.1,9.5 L-0.3,9.0 Z" stroke="none"/><path d="M19.9,-16.3 L16.5,-3.2" fill="none" stroke-width="3.0"/><path d="M16.8,-4.4 C16.0,-0.9 16.5,1.4 18.1,1.4 C19.3,1.4 20.3,0.2 20.9,-1.7" fill="none" stroke-width="2.0"/><path d="M4.3,-2.4 C4.3,0.5 6.3,1.9 8.5,1.6 C11.2,1.2 13.8,-1.6 16.2,-5.4" fill="none" stroke-width="1.9"/></g>
<text x="24.3" y="7.9" font-size="28">DA</text>
<line x1="67.6" y1="7.8" x2="77.6" y2="-25.5" stroke="#000" stroke-width="2.05"/>
<g transform="translate(77.2,0)" fill="#000" stroke="#000" stroke-linecap="butt" stroke-linejoin="round"><path d="M6.3,-16.5 L9.5,-16.1 L3.1,9.5 L-0.3,9.0 Z" stroke="none"/><path d="M19.9,-16.3 L16.5,-3.2" fill="none" stroke-width="3.0"/><path d="M16.8,-4.4 C16.0,-0.9 16.5,1.4 18.1,1.4 C19.3,1.4 20.3,0.2 20.9,-1.7" fill="none" stroke-width="2.0"/><path d="M4.3,-2.4 C4.3,0.5 6.3,1.9 8.5,1.6 C11.2,1.2 13.8,-1.6 16.2,-5.4" fill="none" stroke-width="1.9"/></g>
<text x="102.9" y="7.9" font-size="28">P</text>
<text x="120.3" y="7.9" font-size="28">A</text>
</g>
<line x1="444" y1="33.2" x2="532.8" y2="33.2" stroke="#ff0000" stroke-width="3.9"/>
<g font-size="26.67">
<text x="546" y="41.1">n</text>
<path d="M561.2,31.7 H574.9 M561.2,37.4 H574.9" stroke="#000" stroke-width="1.6" fill="none"/>
<text x="582.6" y="41.1">1.0</text>
<path d="M621.0,27.2 L633.6,39.8 M621.0,39.8 L633.6,27.2" stroke="#000" stroke-width="1.5" fill="none"/>
<text x="639.6" y="41.1">10</text>
<text x="665.3" y="31.9" font-size="18.9">11</text>
<text x="691" y="41.1">cm</text>
<path d="M724.2,27.1 H733.8" stroke="#000" stroke-width="1.35" fill="none"/>
<text x="735.0" y="31.9" font-size="18.9">2</text>
</g>
<line x1="444" y1="82.3" x2="532.0" y2="82.3" stroke="#0000ff" stroke-width="3.9" stroke-dasharray="12.4 5.32"/>
<g font-size="26.67">
<text x="546" y="89.7">n</text>
<path d="M561.2,80.3 H574.9 M561.2,86.0 H574.9" stroke="#000" stroke-width="1.6" fill="none"/>
<text x="582.6" y="89.7">1.0</text>
<path d="M621.0,75.8 L633.6,88.4 M621.0,88.4 L633.6,75.8" stroke="#000" stroke-width="1.5" fill="none"/>
<text x="639.6" y="89.7">10</text>
<text x="665.3" y="80.5" font-size="18.9">12</text>
<text x="691" y="89.7">cm</text>
<path d="M724.2,75.7 H733.8" stroke="#000" stroke-width="1.35" fill="none"/>
<text x="735.0" y="80.5" font-size="18.9">2</text>
</g>
<line x1="444" y1="131.1" x2="532.8" y2="131.1" stroke="#00ff00" stroke-width="3.9" stroke-dasharray="5.85 5.19"/>
<g font-size="26.67">
<text x="546" y="138.8">n</text>
<path d="M561.2,129.4 H574.9 M561.2,135.1 H574.9" stroke="#000" stroke-width="1.6" fill="none"/>
<text x="582.6" y="138.8">1.0</text>
<path d="M621.0,124.9 L633.6,137.5 M621.0,137.5 L633.6,124.9" stroke="#000" stroke-width="1.5" fill="none"/>
<text x="639.6" y="138.8">10</text>
<text x="665.3" y="129.6" font-size="18.9">13</text>
<text x="691" y="138.8">cm</text>
<path d="M724.2,124.8 H733.8" stroke="#000" stroke-width="1.35" fill="none"/>
<text x="735.0" y="129.6" font-size="18.9">2</text>
</g>
</svg></body></html>
